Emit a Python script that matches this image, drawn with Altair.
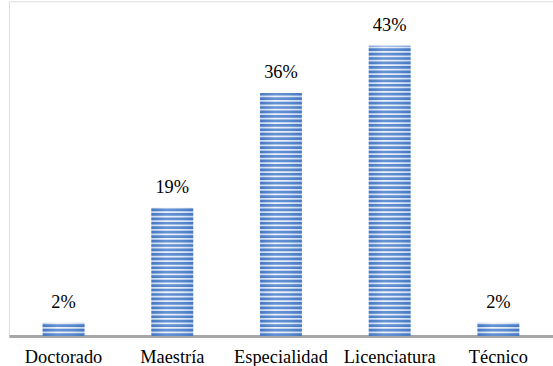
import numpy as np
import pandas as pd
import altair as alt

# Education level shares
categories = ["Doctorado", "Maestría", "Especialidad", "Licenciatura", "Técnico"]
values = [2, 19, 36, 43, 2]
labels = ["2%", "19%", "36%", "43%", "2%"]

bars = pd.DataFrame({"nivel": categories, "valor": values, "etiqueta": labels})

SERIF = "'Times New Roman', 'Liberation Serif', serif"

# Horizontal stripe pattern: dark bands stacked up each bar
period = 0.66
dark = 0.4
rows = []
for cat, val in zip(categories, values):
    for start in np.arange(0, val, period):
        rows.append({"nivel": cat, "y0": float(start), "y1": float(min(start + dark, val))})
stripes = pd.DataFrame(rows)

x_enc = alt.X(
    "nivel:N",
    sort=categories,
    scale=alt.Scale(paddingInner=0.615, paddingOuter=0.31),
    axis=alt.Axis(
        title=None,
        labelAngle=0,
        ticks=False,
        domainColor="#a6a6a6",
        domainWidth=3,
        labelFont=SERIF,
        labelFontSize=18.5,
        labelColor="#000000",
        labelPadding=12,
    ),
)
y_scale = alt.Scale(domain=[0, 49.6], nice=False)

light_fill = alt.Gradient(
    gradient="linear", x1=0, y1=0, x2=1, y2=0,
    stops=[
        alt.GradientStop(color="#c3d6f0", offset=0),
        alt.GradientStop(color="#eef3fb", offset=0.35),
        alt.GradientStop(color="#e0e9f7", offset=0.7),
        alt.GradientStop(color="#c3d6f0", offset=1),
    ],
)
dark_fill = alt.Gradient(
    gradient="linear", x1=0, y1=0, x2=1, y2=0,
    stops=[
        alt.GradientStop(color="#4677c0", offset=0),
        alt.GradientStop(color="#6592d4", offset=0.35),
        alt.GradientStop(color="#5a8ace", offset=0.7),
        alt.GradientStop(color="#4677c0", offset=1),
    ],
)

base = alt.Chart(bars).mark_bar(fill=light_fill).encode(
    x=x_enc,
    y=alt.Y("valor:Q", scale=y_scale, axis=None),
)

stripe_layer = alt.Chart(stripes).mark_bar(fill=dark_fill).encode(
    x=alt.X("nivel:N", sort=categories),
    y=alt.Y("y0:Q", scale=y_scale),
    y2="y1:Q",
)

text = alt.Chart(bars).mark_text(
    font=SERIF, fontSize=18.5, color="#000000", baseline="alphabetic", dy=-15
).encode(
    x=alt.X("nivel:N", sort=categories),
    y=alt.Y("valor:Q", scale=y_scale),
    text="etiqueta:N",
)

chart = (
    alt.layer(base, stripe_layer, text)
    .properties(
        width=548,
        height=337,
        autosize=alt.AutoSizeParams(type="none"),
        padding={"left": 9, "top": 0, "right": 0, "bottom": 29},
    )
    .configure_view(stroke=None)
    .configure(background="#ffffff")
)

chart.save("out.html", embed_options={"renderer": "svg", "actions": False})
